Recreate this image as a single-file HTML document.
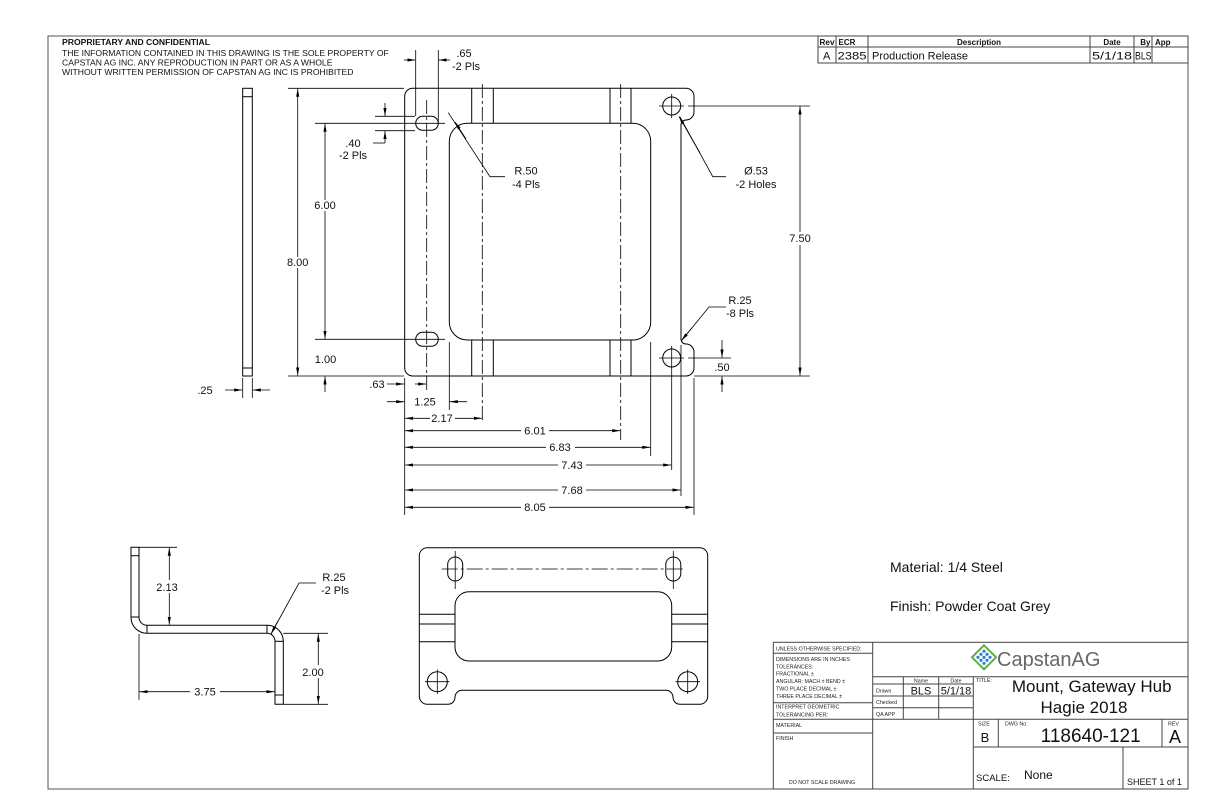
<!DOCTYPE html>
<html><head><meta charset="utf-8"><style>
html,body{margin:0;padding:0;background:#fff;}
svg{display:block;font-family:"Liberation Sans",sans-serif;}
</style></head><body>
<svg width="1224" height="792" viewBox="0 0 1224 792" xmlns="http://www.w3.org/2000/svg">
<defs>
<marker id="a" viewBox="0 0 10 4" refX="10" refY="2" markerWidth="8" markerHeight="3.2" markerUnits="userSpaceOnUse" orient="auto-start-reverse"><path d="M0,0 L10,2 L0,4 Z" fill="#000"/></marker>
</defs>
<rect width="1224" height="792" fill="#fff"/>
<rect x="48" y="36" width="1140" height="753" fill="none" stroke="#555" stroke-width="1"/>

<g font-size="8.6" fill="#111">
<text x="62" y="45" font-weight="bold">PROPRIETARY AND CONFIDENTIAL</text>
<text x="62" y="56">THE INFORMATION CONTAINED IN THIS DRAWING IS THE SOLE PROPERTY OF</text>
<text x="62" y="65.5">CAPSTAN AG INC. ANY REPRODUCTION IN PART OR AS A WHOLE</text>
<text x="62" y="75">WITHOUT WRITTEN PERMISSION OF CAPSTAN AG INC IS PROHIBITED</text>
</g>

<g stroke="#444" stroke-width="1" fill="none">
<rect x="818" y="36" width="370" height="27"/>
<line x1="818" y1="47" x2="1188" y2="47"/>
<line x1="836" y1="36" x2="836" y2="63"/>
<line x1="868" y1="36" x2="868" y2="63"/>
<line x1="1090" y1="36" x2="1090" y2="63"/>
<line x1="1134" y1="36" x2="1134" y2="63"/>
<line x1="1152" y1="36" x2="1152" y2="63"/>
</g>
<g font-size="8" font-weight="bold" fill="#111">
<text x="819.5" y="45" textLength="15" lengthAdjust="spacingAndGlyphs">Rev</text><text x="838.5" y="45">ECR</text>
<text x="979" y="45" text-anchor="middle">Description</text>
<text x="1112" y="45" text-anchor="middle">Date</text>
<text x="1150.5" y="45" text-anchor="end">By</text>
<text x="1155" y="45">App</text>
</g>
<g font-size="11" fill="#111">
<text x="823" y="59.5">A</text><text x="837.5" y="59.5" textLength="29" lengthAdjust="spacingAndGlyphs">2385</text>
<text x="872" y="59.5">Production Release</text>
<text x="1092" y="59.5" textLength="40" lengthAdjust="spacingAndGlyphs">5/1/18</text><text x="1135" y="59.5" textLength="16.5" lengthAdjust="spacingAndGlyphs">BLS</text>
</g>

<g stroke="#000" stroke-width="1" fill="none">
<path d="M412.7 88.3 H686 A8 8 0 0 1 694 96.3 V112 A8 8 0 0 1 686 120 A5 5 0 0 0 681 125 V339 A5 5 0 0 0 686 344 A8 8 0 0 1 694 352 V368 A8 8 0 0 1 686 376 H412.7 A8 8 0 0 1 404.7 368 V96.3 A8 8 0 0 1 412.7 88.3 Z"/>
<rect x="449.3" y="123.3" width="201.4" height="216.7" rx="18"/>
<rect x="415.7" y="116.3" width="22.6" height="14" rx="7"/>
<rect x="415.7" y="332.3" width="22.6" height="14" rx="7"/>
<circle cx="671.7" cy="106" r="9"/>
<circle cx="671.7" cy="358" r="9"/>
<line x1="471.7" y1="88.3" x2="471.7" y2="123.3"/><line x1="493.3" y1="88.3" x2="493.3" y2="123.3"/>
<line x1="610" y1="88.3" x2="610" y2="123.3"/><line x1="631" y1="88.3" x2="631" y2="123.3"/>
<line x1="471.7" y1="340" x2="471.7" y2="376"/><line x1="493.3" y1="340" x2="493.3" y2="376"/>
<line x1="610" y1="340" x2="610" y2="376"/><line x1="631" y1="340" x2="631" y2="376"/>
</g>
<g stroke="#000" stroke-width="0.8" fill="none" stroke-dasharray="14 3 3 3">
<line x1="482.3" y1="84" x2="482.3" y2="422"/>
<line x1="620.7" y1="84" x2="620.7" y2="440"/>
<line x1="426.7" y1="100" x2="426.7" y2="392"/>
</g>
<g stroke="#000" stroke-width="0.8" fill="none">
<line x1="659" y1="106" x2="684" y2="106"/><line x1="671.7" y1="94" x2="671.7" y2="118"/>
<line x1="659" y1="358" x2="684" y2="358"/><line x1="671.7" y1="346" x2="671.7" y2="470"/>
<line x1="688" y1="106" x2="810" y2="106"/>
<line x1="694" y1="376" x2="810" y2="376"/>
<line x1="688" y1="358" x2="731" y2="358"/>
<line x1="315" y1="123.3" x2="445" y2="123.3"/>
<line x1="315" y1="339.3" x2="445" y2="339.3"/>
<line x1="288" y1="88.3" x2="404" y2="88.3"/>
<line x1="288" y1="376" x2="404" y2="376"/>
<line x1="375" y1="116.3" x2="415" y2="116.3"/>
<line x1="375" y1="130.7" x2="415" y2="130.7"/>
<line x1="415.7" y1="50" x2="415.7" y2="116"/>
<line x1="438.3" y1="50" x2="438.3" y2="123"/>
<line x1="404.7" y1="378" x2="404.7" y2="515"/>
<line x1="449.3" y1="342" x2="449.3" y2="410"/>
<line x1="650.7" y1="342" x2="650.7" y2="456"/>
<line x1="681" y1="345" x2="681" y2="496"/>
<line x1="694" y1="378" x2="694" y2="515"/>
<line x1="242.7" y1="378" x2="242.7" y2="398"/>
<line x1="252.3" y1="378" x2="252.3" y2="398"/>
</g>
<g stroke="#000" stroke-width="1" fill="none">
<rect x="242.7" y="88.3" width="9.6" height="287.7"/>
<line x1="242.7" y1="96.7" x2="252.3" y2="96.7"/>
<line x1="242.7" y1="368" x2="252.3" y2="368"/>
</g>

<g stroke="#000" stroke-width="0.8" fill="none">
<line x1="297.7" y1="257" x2="297.7" y2="88.8" marker-end="url(#a)"/>
<line x1="297.7" y1="268" x2="297.7" y2="375.5" marker-end="url(#a)"/>
<line x1="325" y1="200" x2="325" y2="123.8" marker-end="url(#a)"/>
<line x1="325" y1="211" x2="325" y2="338.8" marker-end="url(#a)"/>
<line x1="325" y1="392" x2="325" y2="376.5" marker-end="url(#a)"/>
<line x1="385" y1="103" x2="385" y2="116" marker-end="url(#a)"/>
<line x1="385" y1="143" x2="385" y2="131" marker-end="url(#a)"/>
<line x1="373" y1="143" x2="385" y2="143"/>
<line x1="404" y1="60" x2="415.3" y2="60" marker-end="url(#a)"/>
<line x1="450" y1="60" x2="438.7" y2="60" marker-end="url(#a)"/>
<line x1="800" y1="232" x2="800" y2="106.5" marker-end="url(#a)"/>
<line x1="800" y1="245" x2="800" y2="375.5" marker-end="url(#a)"/>
<line x1="722" y1="340" x2="722" y2="357.5" marker-end="url(#a)"/>
<line x1="722" y1="392" x2="722" y2="376.5" marker-end="url(#a)"/>
<line x1="225" y1="390" x2="242.2" y2="390" marker-end="url(#a)"/>
<line x1="270" y1="390" x2="252.8" y2="390" marker-end="url(#a)"/>
<line x1="387" y1="384" x2="404.2" y2="384" marker-end="url(#a)"/>
<line x1="415" y1="384" x2="426.2" y2="384" marker-end="url(#a)"/>
<line x1="387" y1="401.7" x2="404.2" y2="401.7" marker-end="url(#a)"/>
<line x1="467" y1="401.7" x2="449.8" y2="401.7" marker-end="url(#a)"/>
<line x1="430" y1="418.3" x2="405.2" y2="418.3" marker-end="url(#a)"/>
<line x1="455" y1="418.3" x2="481.8" y2="418.3" marker-end="url(#a)"/>
<line x1="521" y1="430.7" x2="405.2" y2="430.7" marker-end="url(#a)"/>
<line x1="549" y1="430.7" x2="620.2" y2="430.7" marker-end="url(#a)"/>
<line x1="546" y1="447.3" x2="405.2" y2="447.3" marker-end="url(#a)"/>
<line x1="575" y1="447.3" x2="650.2" y2="447.3" marker-end="url(#a)"/>
<line x1="558" y1="465" x2="405.2" y2="465" marker-end="url(#a)"/>
<line x1="586" y1="465" x2="671.2" y2="465" marker-end="url(#a)"/>
<line x1="558" y1="490" x2="405.2" y2="490" marker-end="url(#a)"/>
<line x1="586" y1="490" x2="680.5" y2="490" marker-end="url(#a)"/>
<line x1="521" y1="507.3" x2="405.2" y2="507.3" marker-end="url(#a)"/>
<line x1="549" y1="507.3" x2="693.5" y2="507.3" marker-end="url(#a)"/>
<polyline points="505,176.7 490,176.7 448.3,112.7"/>
<line x1="466" y1="139" x2="455" y2="122" marker-end="url(#a)"/>
<polyline points="726,176.7 712.8,176.7 680,117"/>
<line x1="700" y1="153" x2="679" y2="116.5" marker-end="url(#a)"/>
<polyline points="726,307 709,307 682,340"/>
<line x1="692" y1="327.7" x2="681.5" y2="340.5" marker-end="url(#a)"/>
</g>
<g font-size="11" fill="#111">
<text x="297.7" y="266" text-anchor="middle">8.00</text>
<text x="325" y="209" text-anchor="middle">6.00</text>
<text x="325.5" y="363" text-anchor="middle">1.00</text>
<text x="353" y="147" text-anchor="middle">.40</text>
<text x="353" y="159" text-anchor="middle">-2 Pls</text>
<text x="464" y="57" text-anchor="middle">.65</text>
<text x="466" y="70" text-anchor="middle">-2 Pls</text>
<text x="526" y="174.5" text-anchor="middle">R.50</text>
<text x="526" y="188" text-anchor="middle">-4 Pls</text>
<text x="756" y="174.5" text-anchor="middle">Ø.53</text>
<text x="756" y="188" text-anchor="middle">-2 Holes</text>
<text x="740" y="304" text-anchor="middle">R.25</text>
<text x="740" y="317" text-anchor="middle">-8 Pls</text>
<text x="800" y="242" text-anchor="middle">7.50</text>
<text x="722" y="371" text-anchor="middle">.50</text>
<text x="205" y="394" text-anchor="middle">.25</text>
<text x="377" y="388" text-anchor="middle">.63</text>
<text x="425" y="405.5" text-anchor="middle">1.25</text>
<text x="442" y="422" text-anchor="middle">2.17</text>
<text x="535" y="434.5" text-anchor="middle">6.01</text>
<text x="560" y="451" text-anchor="middle">6.83</text>
<text x="572" y="469" text-anchor="middle">7.43</text>
<text x="572" y="494" text-anchor="middle">7.68</text>
<text x="535" y="511" text-anchor="middle">8.05</text>
</g>

<g stroke="#000" stroke-width="1" fill="none">
<path d="M131 547.3 V617 A16 16 0 0 0 147 633.3 H267 A8 8 0 0 1 275 641.3 V704.3 H283.3 V641.3 A16 16 0 0 0 267.3 625.3 H147 A8 8 0 0 1 139 617.3 V547.3 Z"/>
<line x1="131" y1="555.7" x2="139" y2="555.7"/>
<line x1="131" y1="617" x2="139" y2="617"/>
<line x1="147" y1="625.3" x2="147" y2="633.3"/>
<line x1="267" y1="625.3" x2="267" y2="633.3"/>
<line x1="275" y1="641.3" x2="283.3" y2="641.3"/>
<line x1="275" y1="695" x2="283.3" y2="695"/>
</g>
<g stroke="#000" stroke-width="0.8" fill="none">
<line x1="139" y1="547.3" x2="177" y2="547.3"/>
<line x1="283.3" y1="633.3" x2="328" y2="633.3"/>
<line x1="283.3" y1="704.3" x2="328" y2="704.3"/>
<line x1="139" y1="634" x2="139" y2="700"/>
<line x1="169.3" y1="580" x2="169.3" y2="547.8" marker-end="url(#a)"/>
<line x1="169.3" y1="593" x2="169.3" y2="624.8" marker-end="url(#a)"/>
<line x1="318.3" y1="665" x2="318.3" y2="633.8" marker-end="url(#a)"/>
<line x1="318.3" y1="678" x2="318.3" y2="703.8" marker-end="url(#a)"/>
<line x1="190" y1="691.7" x2="139.5" y2="691.7" marker-end="url(#a)"/>
<line x1="220" y1="691.7" x2="274.5" y2="691.7" marker-end="url(#a)"/>
<polyline points="316,583 299,583 271,634"/>
<line x1="278" y1="621" x2="271" y2="634" marker-end="url(#a)"/>
</g>
<g font-size="11" fill="#111">
<text x="167" y="591" text-anchor="middle">2.13</text>
<text x="313" y="676" text-anchor="middle">2.00</text>
<text x="205" y="695.5" text-anchor="middle">3.75</text>
<text x="334" y="581" text-anchor="middle">R.25</text>
<text x="335" y="594" text-anchor="middle">-2 Pls</text>
</g>

<g stroke="#000" stroke-width="1" fill="none">
<path d="M427.3 547.7 H699.7 A8 8 0 0 1 707.7 555.7 V696.3 A8 8 0 0 1 699.7 704.3 H680 A7 7 0 0 1 673 697.3 A7 7 0 0 0 666 690.3 H462 A7 7 0 0 0 455 697.3 A7 7 0 0 1 448 704.3 H427.3 A8 8 0 0 1 419.3 696.3 V555.7 A8 8 0 0 1 427.3 547.7 Z"/>
<rect x="455" y="591.7" width="216.7" height="69.3" rx="14"/>
<rect x="447.7" y="557" width="15" height="24" rx="7.5"/>
<rect x="665.8" y="557" width="15" height="24" rx="7.5"/>
<circle cx="437.3" cy="681.7" r="10"/>
<circle cx="687.7" cy="681.7" r="10"/>
<line x1="419.3" y1="614.3" x2="455" y2="614.3"/><line x1="419.3" y1="624" x2="455" y2="624"/><line x1="419.3" y1="641.7" x2="455" y2="641.7"/>
<line x1="671.7" y1="614.3" x2="707.7" y2="614.3"/><line x1="671.7" y1="624" x2="707.7" y2="624"/><line x1="671.7" y1="641.7" x2="707.7" y2="641.7"/>
</g>
<g stroke="#000" stroke-width="0.8" fill="none">
<line x1="441.7" y1="569" x2="683" y2="569" stroke-dasharray="16 3 3 3"/>
<line x1="455.2" y1="551" x2="455.2" y2="589"/>
<line x1="673.3" y1="551" x2="673.3" y2="589"/>
<line x1="425" y1="681.7" x2="449.5" y2="681.7"/><line x1="437.3" y1="669.5" x2="437.3" y2="694"/>
<line x1="675.5" y1="681.7" x2="700" y2="681.7"/><line x1="687.7" y1="669.5" x2="687.7" y2="694"/>
</g>

<g font-size="14" fill="#111">
<text x="890" y="572">Material: 1/4 Steel</text>
<text x="890" y="611">Finish: Powder Coat Grey</text>
</g>

<g stroke="#444" stroke-width="1" fill="none">
<rect x="773.3" y="642.3" width="414.7" height="146.7"/>
<line x1="872.7" y1="642.3" x2="872.7" y2="789"/>
<line x1="773.3" y1="653.3" x2="872.7" y2="653.3"/>
<line x1="773.3" y1="702.7" x2="872.7" y2="702.7"/>
<line x1="773.3" y1="719.3" x2="973.3" y2="719.3"/>
<line x1="773.3" y1="733" x2="872.7" y2="733"/>
<line x1="872.7" y1="676.7" x2="1188" y2="676.7"/>
<line x1="872.7" y1="684" x2="973.3" y2="684"/>
<line x1="872.7" y1="696" x2="973.3" y2="696"/>
<line x1="872.7" y1="707.7" x2="973.3" y2="707.7"/>
<line x1="903.3" y1="676.7" x2="903.3" y2="719.3"/>
<line x1="938.7" y1="676.7" x2="938.7" y2="719.3"/>
<line x1="973.3" y1="676.7" x2="973.3" y2="789"/>
<line x1="973.3" y1="719.3" x2="1188" y2="719.3"/>
<line x1="998.3" y1="719.3" x2="998.3" y2="747"/>
<line x1="1162" y1="719.3" x2="1162" y2="747"/>
<line x1="973.3" y1="747" x2="1188" y2="747"/>
<line x1="1123" y1="747" x2="1123" y2="789"/>
</g>
<g font-size="5.3" fill="#222">
<text x="776" y="650.5">UNLESS OTHERWISE SPECIFIED:</text>
<text x="776" y="661">DIMENSIONS ARE IN INCHES</text>
<text x="776" y="668.5">TOLERANCES:</text>
<text x="776" y="675.5">FRACTIONAL ±</text>
<text x="776" y="683">ANGULAR: MACH ±     BEND ±</text>
<text x="776" y="690.5">TWO PLACE DECIMAL    ±</text>
<text x="776" y="698">THREE PLACE DECIMAL  ±</text>
<text x="776" y="708.5">INTERPRET GEOMETRIC</text>
<text x="776" y="716.5">TOLERANCING PER:</text>
<text x="776" y="727">MATERIAL</text>
<text x="776" y="740">FINISH</text>
<text x="822" y="784" text-anchor="middle">DO NOT SCALE DRAWING</text>
<text x="921" y="682.5" text-anchor="middle">Name</text>
<text x="956" y="682.5" text-anchor="middle">Date</text>
<text x="876" y="692.5">Drawn</text>
<text x="876" y="704">Checked</text>
<text x="876" y="716">QA APP</text>
<text x="976" y="682">TITLE:</text>
<text x="978" y="725.5">SIZE</text>
<text x="1005" y="725.5">DWG No:</text>
<text x="1168" y="725.5">REV</text>
</g>
<g fill="#111">
<text x="921" y="694.5" font-size="11" text-anchor="middle">BLS</text>
<text x="956" y="694.5" font-size="11" text-anchor="middle">5/1/18</text>
<text x="1091.7" y="692" font-size="17" text-anchor="middle">Mount, Gateway Hub</text>
<text x="1084" y="713" font-size="17" text-anchor="middle">Hagie 2018</text>
<text x="985" y="742" font-size="13" text-anchor="middle">B</text>
<text x="1090.7" y="742" font-size="19" text-anchor="middle">118640-121</text>
<text x="1175" y="743" font-size="18" text-anchor="middle">A</text>
<text x="976" y="781" font-size="9.5">SCALE:</text>
<text x="1024" y="779" font-size="12">None</text>
<text x="1127" y="785" font-size="9">SHEET 1 of 1</text>
</g>
<g transform="translate(984,657.3)">
<polygon points="0,-12 12,0 0,12 -12,0" fill="#fff" stroke="#5bb042" stroke-width="2"/>
<g fill="#2a7fc9">
<circle cx="0" cy="-6" r="1.6"/><circle cx="-3" cy="-3" r="1.6"/><circle cx="3" cy="-3" r="1.6"/>
<circle cx="-6" cy="0" r="1.6"/><circle cx="0" cy="0" r="1.6"/><circle cx="6" cy="0" r="1.6"/>
<circle cx="-3" cy="3" r="1.6"/><circle cx="3" cy="3" r="1.6"/><circle cx="0" cy="6" r="1.6"/>
</g>
</g>
<text x="997" y="666" font-size="20" fill="#666">CapstanAG</text>
</svg>
</body></html>
